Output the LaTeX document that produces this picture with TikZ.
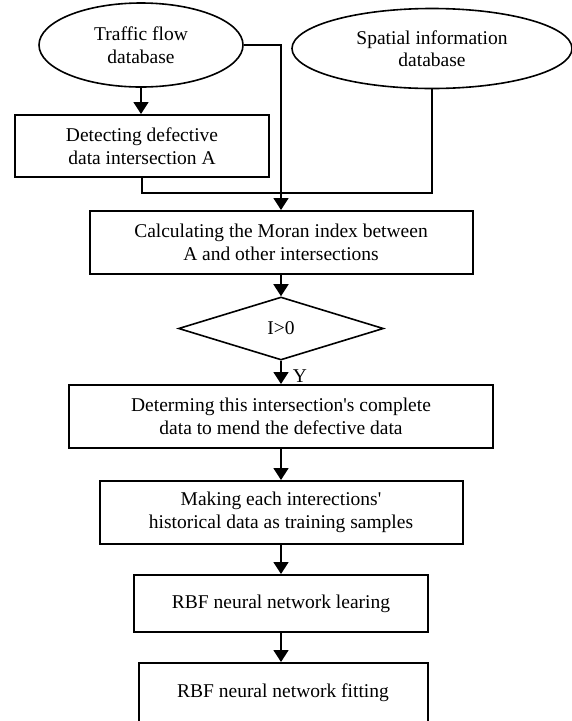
\documentclass[tikz,border=0pt]{standalone}
\usepackage{fontspec}
\setmainfont{Liberation Serif}
\usetikzlibrary{shapes.geometric,arrows.meta}
\begin{document}
\begin{tikzpicture}[x=1pt,y=-1pt,
  txt/.style={font=\fontsize{19.5}{22.5}\selectfont},
  box/.style={txt,draw,line width=2pt,rectangle,inner sep=0pt,align=center},
  dbase/.style={txt,draw,line width=1.6pt,ellipse,inner sep=0pt,align=center},
  dec/.style={txt,draw,line width=1.6pt,diamond,inner sep=0pt,align=center},
  conn/.style={line width=1.7pt},
  arr/.style={conn,-{Triangle[width=15pt,length=12pt]}}]
\useasboundingbox (0,0) rectangle (572,721);
\clip (0,0) rectangle (572,721);
\node[dbase,minimum width=204,minimum height=84] (e1) at (141,45) {Traffic flow\\database};
\node[dbase,minimum width=280,minimum height=80] (e2) at (432,48.5) {Spatial information\\database};
\node[box,minimum width=254,minimum height=62] (b1) at (142,146) {Detecting defective\\data intersection A};
\node[box,minimum width=383,minimum height=63] (b2) at (281,242.5) {Calculating the Moran index between\\A and other intersections};
\node[dec,minimum width=205,minimum height=63] (d) at (281,328.5) {I>0};
\node[box,minimum width=424,minimum height=63] (b3) at (281,416.5) {Determing this intersection\textquotesingle s complete\\data to mend the defective data};
\node[box,minimum width=363,minimum height=63] (b4) at (281,512.5) {Making each interections\textquotesingle\\historical data as training samples};
\node[box,minimum width=294,minimum height=57] (b5) at (281,603.5) {RBF neural network learing};
\node[box,minimum width=289,minimum height=60] (b6) at (283,693) {RBF neural network fitting};
\coordinate (j) at (281,193);
\draw[arr] (e1.south) -- (e1.south |- b1.north);
\draw[arr] (e1.east) -| (b2.north);
\draw[conn] (b1.south) |- (j) -| (e2.south);
\draw[arr] (b2.south) -- (d.north);
\draw[arr] (d.south) -- (b3.north) node[txt,pos=0.64,anchor=west,inner sep=0pt,xshift=11pt] {Y};
\draw[arr] (b3.south) -- (b4.north);
\draw[arr] (b4.south) -- (b5.north);
\draw[arr] (b5.south) -- (b5.south |- b6.north);
\end{tikzpicture}
\end{document}
